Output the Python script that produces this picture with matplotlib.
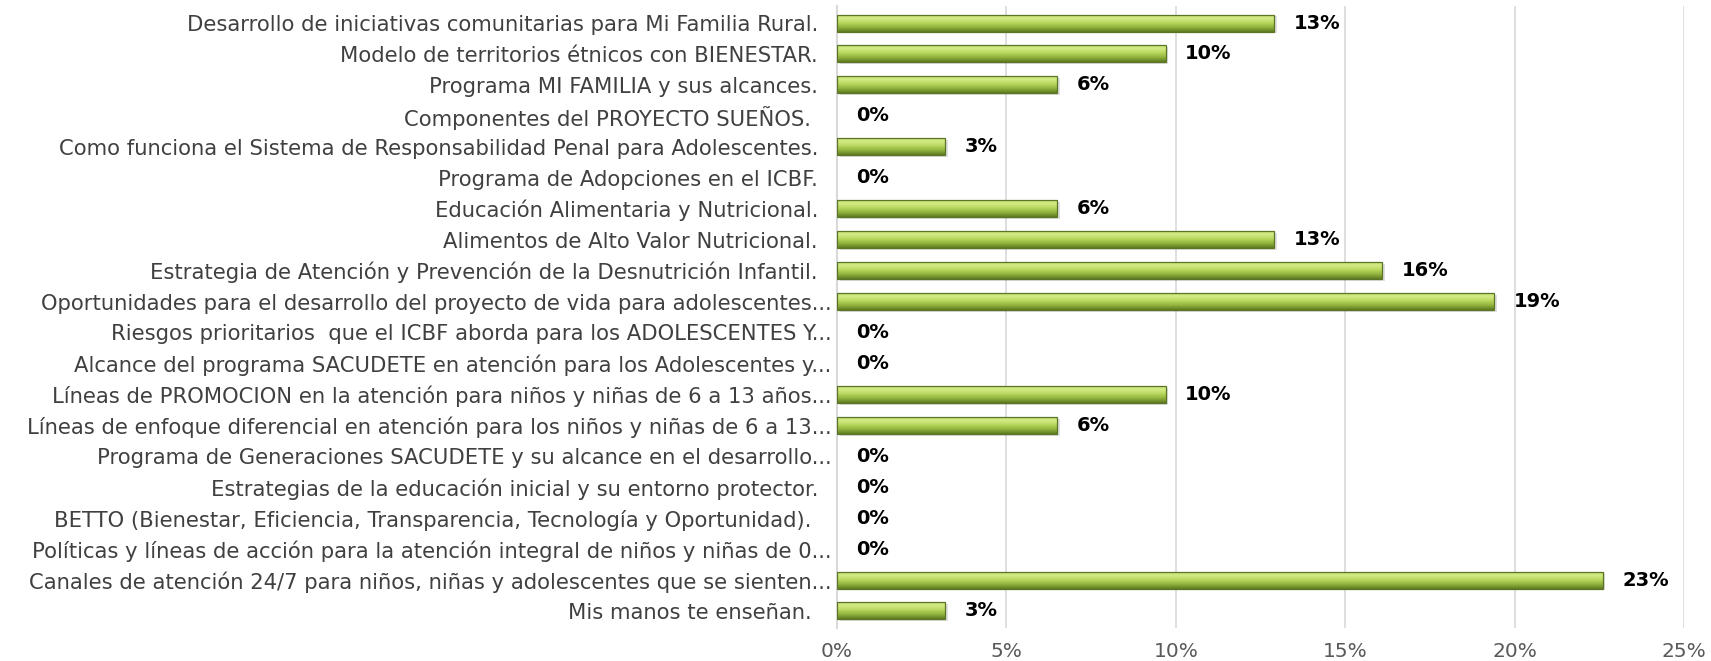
import numpy as np
import matplotlib
matplotlib.use('Agg')
import matplotlib.pyplot as plt
from matplotlib.colors import LinearSegmentedColormap
from matplotlib.ticker import FuncFormatter

# data (top to bottom, as in the chart)

LABELS = [
    'Desarrollo de iniciativas comunitarias para Mi Familia Rural.  ',
    'Modelo de territorios étnicos con BIENESTAR.  ',
    'Programa MI FAMILIA y sus alcances.  ',
    'Componentes del PROYECTO SUEÑOS.   ',
    'Como funciona el Sistema de Responsabilidad Penal para Adolescentes.  ',
    'Programa de Adopciones en el ICBF.  ',
    'Educación Alimentaria y Nutricional.  ',
    'Alimentos de Alto Valor Nutricional.  ',
    'Estrategia de Atención y Prevención de la Desnutrición Infantil.  ',
    'Oportunidades para el desarrollo del proyecto de vida para adolescentes...',
    'Riesgos prioritarios  que el ICBF aborda para los ADOLESCENTES Y...',
    'Alcance del programa SACUDETE en atención para los Adolescentes y...',
    'Líneas de PROMOCION en la atención para niños y niñas de 6 a 13 años...',
    'Líneas de enfoque diferencial en atención para los niños y niñas de 6 a 13...',
    'Programa de Generaciones SACUDETE y su alcance en el desarrollo...',
    'Estrategias de la educación inicial y su entorno protector.  ',
    'BETTO (Bienestar, Eficiencia, Transparencia, Tecnología y Oportunidad).   ',
    'Políticas y líneas de acción para la atención integral de niños y niñas de 0...',
    'Canales de atención 24/7 para niños, niñas y adolescentes que se sienten...',
    'Mis manos te enseñan.   ',
]
VALUES = [12.9, 9.7, 6.5, 0, 3.2, 0, 6.5, 12.9, 16.1, 19.4,
          0, 0, 9.7, 6.5, 0, 0, 0, 0, 22.6, 3.2]
X_TICKS = [0, 5, 10, 15, 20, 25]

W, H, DPI = 1711, 661, 100
BAR_H = 0.55


def main():
    fig = plt.figure(figsize=(W / DPI, H / DPI), dpi=DPI)
    ax = fig.add_axes([837 / W, 1 - 628 / H, (1684 - 837) / W, (628 - 6) / H])

    y = np.arange(len(LABELS))
    edge = ['#5b7526' if v > 0 else 'none' for v in VALUES]
    bars = ax.barh(y, VALUES, height=BAR_H, color='none',
                   edgecolor=edge, linewidth=0.9, zorder=3)

    # gradient fill, dark at the bottom, light at the top
    cmap = LinearSegmentedColormap.from_list(
        'bevel', ['#5f7a22', '#8fb03c', '#b5d65a', '#d3eb85', '#c2df6a'])
    grad = np.linspace(0, 1, 64).reshape(-1, 1)
    for bar, v, yy in zip(bars, VALUES, y):
        if v <= 0:
            continue
        im = ax.imshow(grad, extent=(0, v, yy + BAR_H / 2, yy - BAR_H / 2),
                       origin='lower', aspect='auto', cmap=cmap, zorder=2)
        im.set_clip_path(bar)
        # soft shadow below bar
        ax.barh(yy + 0.06, v, height=BAR_H, left=0.08, color='#000000',
                alpha=0.12, zorder=1, linewidth=0)

    for v, yy in zip(VALUES, y):
        ax.annotate('%d%%' % round(v), xy=(v, yy), xytext=(14, 0),
                    textcoords='offset points', va='center', ha='left',
                    fontsize=14, fontweight='bold', color='black',
                    family='DejaVu Sans')

    ax.set_xlim(0, 25)
    ax.set_ylim(len(LABELS) - 0.45, -0.55)
    ax.set_xticks(X_TICKS)
    ax.xaxis.set_major_formatter(FuncFormatter(lambda x, p: '%d%%' % x))
    ax.set_yticks(y)
    ax.set_yticklabels(LABELS, fontsize=15.2, color='#404040', family='DejaVu Sans')
    ax.tick_params(axis='x', length=0, pad=10, labelsize=14.5, labelcolor='#595959')
    ax.tick_params(axis='y', length=0, pad=4)

    ax.grid(axis='x', color='#d9d9d9', linewidth=1.2, zorder=0)
    ax.set_axisbelow(True)
    for side in ['top', 'right', 'bottom']:
        ax.spines[side].set_visible(False)
    ax.spines['left'].set_color('#d9d9d9')
    ax.spines['left'].set_linewidth(1.5)

    fig.savefig('out.png', dpi=DPI)
    plt.close('all')


if __name__ == '__main__':
    main()
